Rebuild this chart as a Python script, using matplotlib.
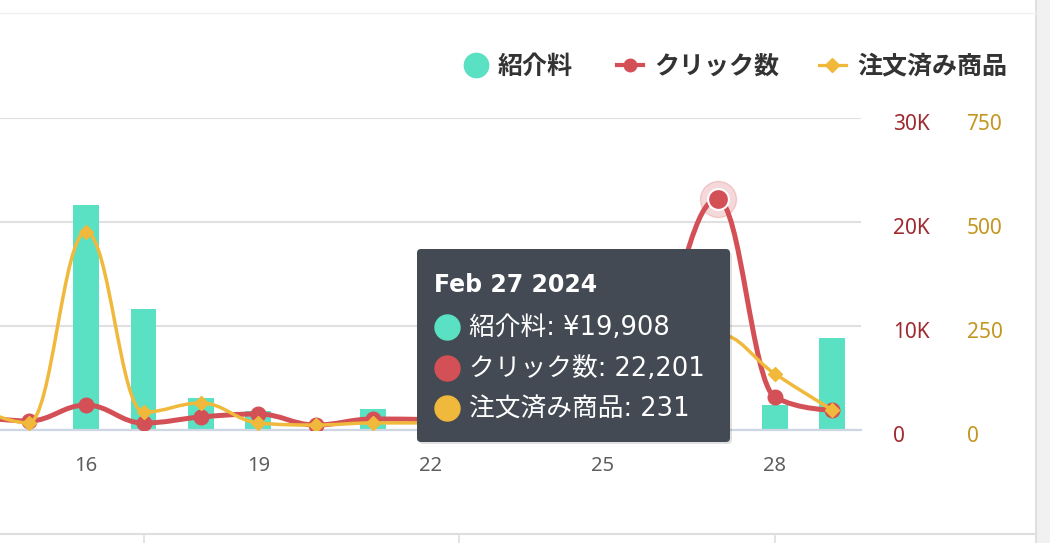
import matplotlib
matplotlib.use('Agg')
import matplotlib.pyplot as plt
from matplotlib.path import Path
from matplotlib.patches import PathPatch, FancyBboxPatch, Rectangle
from matplotlib.lines import Line2D
from matplotlib.transforms import IdentityTransform, ScaledTranslation

plt.rcParams['font.family'] = ['Noto Sans', 'Noto Sans CJK JP', 'DejaVu Sans']

# データ (2024年2月, 日別)
days = [14, 15, 16, 17, 18, 19, 20, 21, 22, 23, 24, 25, 26, 27, 28, 29]
fee = [5000, 0, 43300, 23300, 6150, 3650, 0, 4040, 3000, 2000, 5000, 8000, 12000, 19908, 4810, 17700]
clicks = [1350, 870, 2400, 670, 1250, 1540, 480, 1060, 1000, 900, 1200, 2500, 10000, 22201, 3170, 1920]
orders = [60, 17, 476, 43, 65, 17, 12, 17, 17, 10, 15, 40, 150, 231, 135, 48]

series_names = ['紹介料', 'クリック数', '注文済み商品']
tick_days = [16, 19, 22, 25, 28]
click_ticks = [0, 10000, 20000, 30000]
click_labels = ['0', '10K', '20K', '30K']
order_ticks = [0, 250, 500, 750]
hover_day = 27
hover_title = 'Feb 27 2024'

TEAL = '#5ae1c3'
RED = '#d35056'
YELLOW = '#f0b93c'
W, H = 1050, 543
TIP_FONT = ['DejaVu Sans', 'Noto Sans CJK JP']


def fx(x):
    return x / W


def fy(y):
    return 1 - y / H


def spline_path(xs, ys, smoothing=1.5):
    # Highcharts風のスプライン(制御点の計算)
    n = len(xs)
    lc = [(x, y) for x, y in zip(xs, ys)]
    rc = [(x, y) for x, y in zip(xs, ys)]
    d = smoothing + 1
    for i in range(1, n - 1):
        x, y = xs[i], ys[i]
        px, py = xs[i - 1], ys[i - 1]
        nx, ny = xs[i + 1], ys[i + 1]
        lcx = (smoothing * x + px) / d
        lcy = (smoothing * y + py) / d
        rcx = (smoothing * x + nx) / d
        rcy = (smoothing * y + ny) / d
        corr = (rcy - lcy) * (rcx - x) / (rcx - lcx) + y - rcy
        lcy += corr
        rcy += corr
        if lcy > py and lcy > y:
            lcy = max(py, y)
            rcy = 2 * y - lcy
        elif lcy < py and lcy < y:
            lcy = min(py, y)
            rcy = 2 * y - lcy
        if rcy > ny and rcy > y:
            rcy = max(ny, y)
            lcy = 2 * y - rcy
        elif rcy < ny and rcy < y:
            rcy = min(ny, y)
            lcy = 2 * y - rcy
        lc[i] = (lcx, lcy)
        rc[i] = (rcx, rcy)
    verts = [(xs[0], ys[0])]
    codes = [Path.MOVETO]
    for i in range(1, n):
        verts += [rc[i - 1], lc[i], (xs[i], ys[i])]
        codes += [Path.CURVE4] * 3
    return Path(verts, codes)


fig = plt.figure(figsize=(W / 100, H / 100), dpi=100)
ax = fig.add_axes([0, fy(430), fx(861), fy(118) - fy(430)])
ax2 = ax.twinx()
ax3 = ax.twinx()

# 棒グラフ (紹介料)
ax.bar(days, fee, width=0.45, color=TEAL, zorder=2)
ax.set_xlim(14.5, 29.5)
ax.set_ylim(0, 60000)
ax.set_yticks([0, 20000, 40000, 60000])
ax.grid(axis='y', color='#e0e0e0', linewidth=1.5, zorder=0)
ax.set_axisbelow(True)
ax.tick_params(axis='y', left=False, labelleft=False)
ax.set_xticks(tick_days)
ax.set_xticklabels([str(d) for d in tick_days])
ax.tick_params(axis='x', length=0, pad=19, labelsize=14.5, labelcolor='#5e5e5e')
for s in ['top', 'left', 'right']:
    ax.spines[s].set_visible(False)
ax.spines['bottom'].set_color('#cdd6e2')
ax.spines['bottom'].set_linewidth(1.6)

# クリック数
ax2.add_patch(PathPatch(spline_path(days, clicks), fill=False, edgecolor=RED, linewidth=3.6,
                        capstyle='round', joinstyle='round', zorder=3))
ax2.plot(days, clicks, linestyle='none', marker='o', ms=10.5, color=RED, zorder=4)
ax2.set_ylim(0, 30000)
ax2.set_yticks(click_ticks)
ax2.set_yticklabels(click_labels)
ax2.tick_params(axis='y', length=0, pad=23, labelsize=15, labelcolor='#9e2a30')

# 注文済み商品
ax3.add_patch(PathPatch(spline_path(days, orders), fill=False, edgecolor=YELLOW, linewidth=2.5,
                        capstyle='round', joinstyle='round', zorder=3))
ax3.plot(days, orders, linestyle='none', marker='D', ms=7.5, color=YELLOW, zorder=4)
ax3.set_ylim(0, 750)
ax3.set_yticks(order_ticks)
ax3.set_yticklabels([str(v) for v in order_ticks])
ax3.tick_params(axis='y', length=0, pad=76, labelsize=15, labelcolor='#c4961f')

shift = ScaledTranslation(0, -4 / 100, fig.dpi_scale_trans)
for a in (ax2, ax3):
    for s in a.spines.values():
        s.set_visible(False)
    a.set_xlim(14.5, 29.5)
    for lab in a.get_yticklabels():
        lab.set_horizontalalignment('left')
        lab.set_transform(lab.get_transform() + shift)

# ホバー中の点
hi = days.index(hover_day)
ax2.plot(hover_day, clicks[hi], 'o', ms=26, color=RED, alpha=0.22, zorder=5)
ax2.plot(hover_day, clicks[hi], 'o', ms=15, mfc=RED, mec='white', mew=1.5, zorder=6)

# 凡例
fig.add_artist(Line2D([fx(476)], [fy(65)], marker='o', ms=17.5, color=TEAL,
                      linestyle='none', transform=fig.transFigure))
fig.add_artist(Line2D([fx(617), fx(643)], [fy(65), fy(65)], color=RED, lw=3,
                      transform=fig.transFigure))
fig.add_artist(Line2D([fx(630)], [fy(65)], marker='o', ms=9, color=RED,
                      transform=fig.transFigure))
fig.add_artist(Line2D([fx(819), fx(846)], [fy(65), fy(65)], color=YELLOW, lw=2.3,
                      transform=fig.transFigure))
fig.add_artist(Line2D([fx(832)], [fy(65)], marker='D', ms=7, color=YELLOW,
                      transform=fig.transFigure))
for name, xt in zip(series_names, [498, 654, 857]):
    fig.text(fx(xt), fy(67), name, fontsize=18, fontweight='bold',
             color='#333333', va='center', ha='left')

# ツールチップ
fig.add_artist(FancyBboxPatch((419, H - 444), 313, 192, boxstyle='round,pad=0,rounding_size=4',
                              facecolor='black', edgecolor='none', alpha=0.12,
                              transform=IdentityTransform()))
fig.add_artist(FancyBboxPatch((417, H - 442), 313, 193, boxstyle='round,pad=0,rounding_size=4',
                              facecolor='#434a53', edgecolor='none',
                              transform=IdentityTransform()))
fig.text(fx(434), fy(285), hover_title, fontsize=17, fontweight='bold', color='white',
         va='center', ha='left', family=TIP_FONT)
rows = [
    (TEAL, f'{series_names[0]}: ¥{fee[hi]:,}', 327),
    (RED, f'{series_names[1]}: {clicks[hi]:,}', 368),
    (YELLOW, f'{series_names[2]}: {orders[hi]:,}', 408),
]
for col, txt, y in rows:
    fig.add_artist(Line2D([fx(447)], [fy(y)], marker='o', ms=18, color=col,
                          transform=fig.transFigure))
    fig.text(fx(469), fy(y + 1), txt, fontsize=18.5, color='white', va='center', ha='left',
             family=TIP_FONT)

# カードの枠
fig.add_artist(Rectangle((fx(1036), 0), 1 - fx(1036), 1, transform=fig.transFigure,
                         facecolor='#f1f1f1', edgecolor='none'))
fig.add_artist(Line2D([fx(1036), fx(1036)], [0, 1], color='#dcdcdc', lw=1.2,
                      transform=fig.transFigure))
fig.add_artist(Line2D([0, fx(1036)], [fy(13), fy(13)], color='#f0f0f0', lw=1,
                      transform=fig.transFigure))
fig.add_artist(Line2D([0, fx(1036)], [fy(534), fy(534)], color='#dedede', lw=1.5,
                      transform=fig.transFigure))
for xd in [144, 459, 775]:
    fig.add_artist(Line2D([fx(xd), fx(xd)], [fy(536), 0], color='#dedede', lw=1.2,
                          transform=fig.transFigure))

fig.savefig('out.png', dpi=100)
